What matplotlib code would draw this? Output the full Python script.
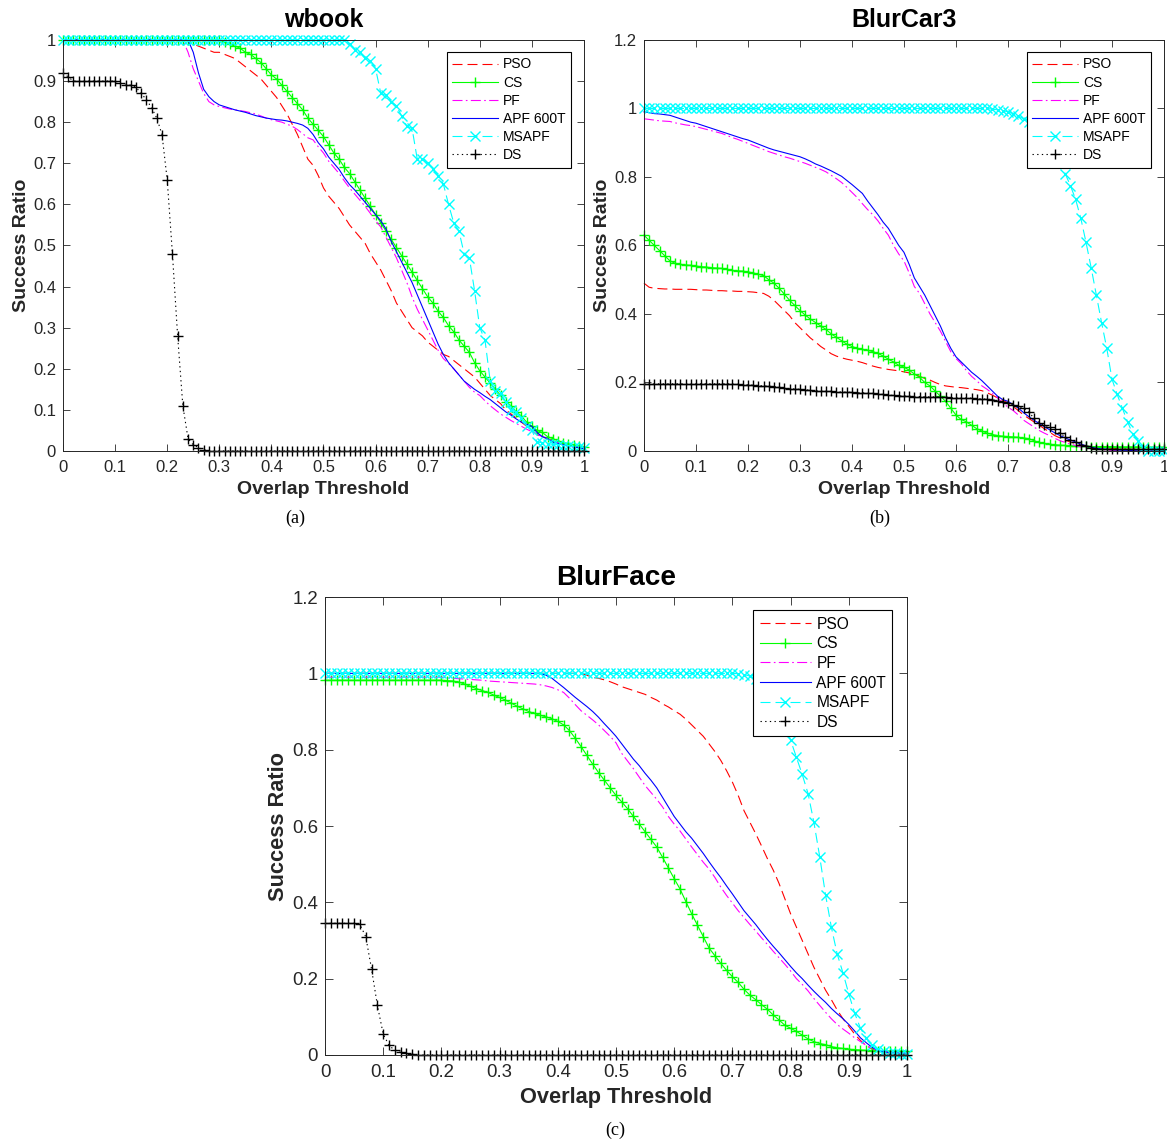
import numpy as np
import matplotlib
matplotlib.use('Agg')
import matplotlib.pyplot as plt
import matplotlib.ticker as tkr

plt.rcParams['font.family'] = ['Liberation Sans', 'DejaVu Sans']

# overlap thresholds (x axis)
thr = np.linspace(0, 1, 101)

# DATA  (rows of ten: 0.00-0.09, 0.10-0.19, ... , last value at 1.00)
##############################################################################

# (a) wbook
a_pso = [1, 1, 1, 1, 1, 1, 1, 1, 1, 1,
         1, 1, 1, 1, 1, 1, 1, 1, 1, 1,
         1, 1, 1, 1, 1, 0.99, 0.985, 0.98, 0.975, 0.97,
         0.97, 0.965, 0.96, 0.955, 0.945, 0.935, 0.925, 0.915, 0.905, 0.89,
         0.875, 0.86, 0.84, 0.82, 0.795, 0.77, 0.74, 0.71, 0.695, 0.67,
         0.64, 0.62, 0.605, 0.59, 0.57, 0.55, 0.535, 0.52, 0.505, 0.48,
         0.46, 0.44, 0.415, 0.39, 0.36, 0.34, 0.32, 0.30, 0.29, 0.28,
         0.265, 0.255, 0.245, 0.235, 0.23, 0.22, 0.21, 0.20, 0.19, 0.18,
         0.165, 0.15, 0.135, 0.125, 0.115, 0.10, 0.09, 0.08, 0.07, 0.06,
         0.05, 0.04, 0.035, 0.03, 0.025, 0.02, 0.015, 0.012, 0.01, 0.008,
         0.005]
a_cs = [1, 1, 1, 1, 1, 1, 1, 1, 1, 1,
        1, 1, 1, 1, 1, 1, 1, 1, 1, 1,
        1, 1, 1, 1, 1, 1, 1, 1, 1, 1,
        1, 0.995, 0.99, 0.985, 0.98, 0.97, 0.965, 0.955, 0.945, 0.93,
        0.915, 0.905, 0.89, 0.875, 0.86, 0.845, 0.83, 0.81, 0.795, 0.78,
        0.765, 0.745, 0.725, 0.71, 0.69, 0.675, 0.655, 0.635, 0.615, 0.595,
        0.575, 0.555, 0.535, 0.515, 0.495, 0.475, 0.455, 0.435, 0.415, 0.395,
        0.375, 0.36, 0.34, 0.325, 0.305, 0.29, 0.27, 0.255, 0.24, 0.215,
        0.195, 0.18, 0.165, 0.15, 0.135, 0.12, 0.11, 0.095, 0.085, 0.07,
        0.06, 0.05, 0.045, 0.035, 0.03, 0.025, 0.02, 0.018, 0.015, 0.012,
        0.01]
a_pf = [1, 1, 1, 1, 1, 1, 1, 1, 1, 1,
        1, 1, 1, 1, 1, 1, 1, 1, 1, 1,
        1, 1, 1, 1, 0.97, 0.93, 0.9, 0.87, 0.85, 0.842,
        0.838, 0.835, 0.832, 0.83, 0.828, 0.826, 0.823, 0.82, 0.815, 0.81,
        0.806, 0.803, 0.80, 0.795, 0.79, 0.782, 0.772, 0.762, 0.757, 0.74,
        0.725, 0.705, 0.69, 0.675, 0.657, 0.64, 0.625, 0.61, 0.595, 0.578,
        0.56, 0.545, 0.52, 0.495, 0.47, 0.44, 0.41, 0.375, 0.345, 0.32,
        0.295, 0.27, 0.245, 0.225, 0.213, 0.2, 0.185, 0.17, 0.155, 0.143,
        0.135, 0.122, 0.11, 0.1, 0.09, 0.082, 0.074, 0.067, 0.06, 0.053,
        0.047, 0.04, 0.035, 0.03, 0.024, 0.02, 0.015, 0.012, 0.01, 0.008,
        0.005]
a_apf = [1, 1, 1, 1, 1, 1, 1, 1, 1, 1,
         1, 1, 1, 1, 1, 1, 1, 1, 1, 1,
         1, 1, 1, 1, 1, 0.97, 0.92, 0.88, 0.862, 0.85,
         0.842, 0.838, 0.834, 0.83, 0.827, 0.824, 0.82, 0.816, 0.813, 0.81,
         0.808, 0.806, 0.805, 0.803, 0.80, 0.797, 0.793, 0.785, 0.77, 0.75,
         0.735, 0.715, 0.70, 0.685, 0.665, 0.648, 0.635, 0.62, 0.605, 0.59,
         0.575, 0.56, 0.54, 0.51, 0.485, 0.46, 0.435, 0.41, 0.38, 0.35,
         0.32, 0.29, 0.26, 0.235, 0.215, 0.2, 0.185, 0.17, 0.16, 0.15,
         0.142, 0.133, 0.125, 0.115, 0.105, 0.095, 0.087, 0.078, 0.07, 0.065,
         0.06, 0.045, 0.035, 0.03, 0.022, 0.018, 0.015, 0.012, 0.01, 0.008,
         0.005]
a_msapf = [1, 1, 1, 1, 1, 1, 1, 1, 1, 1,
           1, 1, 1, 1, 1, 1, 1, 1, 1, 1,
           1, 1, 1, 1, 1, 1, 1, 1, 1, 1,
           1, 1, 1, 1, 1, 1, 1, 1, 1, 1,
           1, 1, 1, 1, 1, 1, 1, 1, 1, 1,
           1, 1, 1, 1, 1, 0.99, 0.976, 0.97, 0.955, 0.95,
           0.93, 0.87, 0.865, 0.85, 0.84, 0.815, 0.79, 0.785, 0.71, 0.71,
           0.70, 0.685, 0.67, 0.65, 0.60, 0.555, 0.535, 0.48, 0.47, 0.39,
           0.30, 0.27, 0.17, 0.145, 0.14, 0.12, 0.10, 0.095, 0.08, 0.06,
           0.05, 0.022, 0.02, 0.018, 0.016, 0.015, 0.013, 0.012, 0.01, 0.01,
           0.008]
a_ds = [0.92, 0.91, 0.90, 0.90, 0.90, 0.90, 0.90, 0.90, 0.90, 0.90,
        0.90, 0.895, 0.89, 0.89, 0.885, 0.87, 0.855, 0.835, 0.81, 0.77,
        0.66, 0.48, 0.28, 0.11, 0.03, 0.015, 0.008, 0.003, 0, 0,
        0, 0, 0, 0, 0, 0, 0, 0, 0, 0,
        0, 0, 0, 0, 0, 0, 0, 0, 0, 0,
        0, 0, 0, 0, 0, 0, 0, 0, 0, 0,
        0, 0, 0, 0, 0, 0, 0, 0, 0, 0,
        0, 0, 0, 0, 0, 0, 0, 0, 0, 0,
        0, 0, 0, 0, 0, 0, 0, 0, 0, 0,
        0, 0, 0, 0, 0, 0, 0, 0, 0, 0,
        0]

# (b) BlurCar3
b_pso = [0.49, 0.478, 0.475, 0.474, 0.473, 0.473, 0.472, 0.472, 0.472, 0.472,
         0.471, 0.47, 0.47, 0.469, 0.468, 0.468, 0.467, 0.467, 0.466, 0.466,
         0.465, 0.464, 0.462, 0.46, 0.452, 0.44, 0.425, 0.41, 0.395, 0.375,
         0.36, 0.345, 0.33, 0.318, 0.305, 0.295, 0.284, 0.277, 0.272, 0.268,
         0.265, 0.262, 0.258, 0.253, 0.248, 0.244, 0.241, 0.238, 0.236, 0.234,
         0.231, 0.228, 0.224, 0.218, 0.212, 0.207, 0.20, 0.194, 0.19, 0.188,
         0.186, 0.185, 0.183, 0.181, 0.179, 0.176, 0.17, 0.163, 0.155, 0.148,
         0.14, 0.13, 0.118, 0.105, 0.095, 0.085, 0.075, 0.065, 0.055, 0.045,
         0.038, 0.032, 0.026, 0.022, 0.018, 0.015, 0.013, 0.012, 0.01, 0.009,
         0.008, 0.007, 0.006, 0.005, 0.005, 0.004, 0.004, 0.003, 0.003, 0.002,
         0.002]
b_cs = [0.63, 0.615, 0.60, 0.585, 0.57, 0.555, 0.548, 0.545, 0.543, 0.542,
        0.54, 0.538, 0.537, 0.535, 0.534, 0.533, 0.53, 0.527, 0.526, 0.525,
        0.523, 0.52, 0.516, 0.512, 0.50, 0.49, 0.475, 0.458, 0.44, 0.425,
        0.41, 0.397, 0.385, 0.375, 0.365, 0.355, 0.342, 0.332, 0.322, 0.312,
        0.305, 0.30, 0.297, 0.294, 0.29, 0.285, 0.277, 0.268, 0.26, 0.25,
        0.245, 0.236, 0.225, 0.215, 0.20, 0.19, 0.175, 0.16, 0.145, 0.125,
        0.105, 0.092, 0.085, 0.075, 0.065, 0.058, 0.052, 0.048, 0.045, 0.043,
        0.042, 0.041, 0.04, 0.038, 0.036, 0.03, 0.025, 0.022, 0.02, 0.018,
        0.017, 0.016, 0.015, 0.015, 0.015, 0.014, 0.013, 0.013, 0.013, 0.013,
        0.013, 0.012, 0.012, 0.012, 0.012, 0.012, 0.011, 0.011, 0.011, 0.011,
        0.011]
b_pf = [0.97, 0.968, 0.966, 0.964, 0.963, 0.962, 0.958, 0.955, 0.952, 0.95,
        0.947, 0.943, 0.939, 0.935, 0.931, 0.927, 0.921, 0.915, 0.91, 0.904,
        0.898, 0.892, 0.886, 0.88, 0.874, 0.869, 0.864, 0.859, 0.855, 0.85,
        0.845, 0.84, 0.834, 0.828, 0.822, 0.815, 0.805, 0.795, 0.784, 0.77,
        0.755, 0.74, 0.722, 0.705, 0.69, 0.672, 0.65, 0.63, 0.60, 0.575,
        0.555, 0.52, 0.48, 0.46, 0.43, 0.40, 0.375, 0.35, 0.32, 0.29,
        0.27, 0.255, 0.235, 0.218, 0.205, 0.19, 0.18, 0.168, 0.155, 0.14,
        0.128, 0.118, 0.105, 0.09, 0.08, 0.07, 0.06, 0.052, 0.045, 0.037,
        0.03, 0.025, 0.02, 0.016, 0.012, 0.009, 0.007, 0.005, 0.004, 0.003,
        0.002, 0.002, 0.001, 0, 0, 0, 0, 0, 0, 0,
        0]
b_apf = [0.99, 0.988, 0.985, 0.984, 0.982, 0.98, 0.975, 0.97, 0.965, 0.96,
         0.957, 0.952, 0.947, 0.942, 0.937, 0.932, 0.927, 0.922, 0.917, 0.912,
         0.908, 0.902, 0.896, 0.89, 0.884, 0.879, 0.875, 0.871, 0.867, 0.863,
         0.859, 0.853, 0.846, 0.838, 0.832, 0.825, 0.818, 0.81, 0.802, 0.79,
         0.778, 0.765, 0.752, 0.73, 0.71, 0.69, 0.668, 0.65, 0.625, 0.60,
         0.58, 0.545, 0.505, 0.48, 0.455, 0.425, 0.395, 0.365, 0.33, 0.30,
         0.275, 0.26, 0.245, 0.23, 0.218, 0.205, 0.19, 0.175, 0.16, 0.15,
         0.145, 0.135, 0.125, 0.112, 0.10, 0.09, 0.08, 0.071, 0.062, 0.053,
         0.045, 0.038, 0.032, 0.026, 0.02, 0.015, 0.011, 0.008, 0.006, 0.005,
         0.004, 0.003, 0.002, 0.002, 0.001, 0, 0, 0, 0, 0,
         0]
b_msapf = [1, 1, 1, 1, 1, 1, 1, 1, 1, 1,
           1, 1, 1, 1, 1, 1, 1, 1, 1, 1,
           1, 1, 1, 1, 1, 1, 1, 1, 1, 1,
           1, 1, 1, 1, 1, 1, 1, 1, 1, 1,
           1, 1, 1, 1, 1, 1, 1, 1, 1, 1,
           1, 1, 1, 1, 1, 1, 1, 1, 1, 1,
           1, 1, 1, 1, 1, 1, 1, 0.998, 0.996, 0.994,
           0.99, 0.985, 0.978, 0.97, 0.96, 0.945, 0.93, 0.91, 0.89, 0.865,
           0.84, 0.81, 0.775, 0.735, 0.68, 0.61, 0.535, 0.455, 0.375, 0.30,
           0.21, 0.165, 0.125, 0.085, 0.05, 0.03, 0.01, 0, 0, 0,
           0]
b_ds = [0.197, 0.196, 0.196, 0.196, 0.196, 0.196, 0.196, 0.196, 0.196, 0.196,
        0.196, 0.196, 0.196, 0.196, 0.196, 0.196, 0.196, 0.195, 0.195, 0.194,
        0.193, 0.192, 0.191, 0.19, 0.189, 0.188, 0.186, 0.184, 0.182, 0.181,
        0.18, 0.179, 0.177, 0.176, 0.175, 0.175, 0.174, 0.173, 0.172, 0.172,
        0.171, 0.17, 0.17, 0.169, 0.168, 0.166, 0.165, 0.163, 0.162, 0.161,
        0.16, 0.16, 0.159, 0.159, 0.158, 0.158, 0.158, 0.157, 0.157, 0.156,
        0.156, 0.155, 0.155, 0.154, 0.153, 0.152, 0.151, 0.15, 0.147, 0.144,
        0.14, 0.135, 0.13, 0.125, 0.115, 0.095, 0.083, 0.075, 0.07, 0.063,
        0.052, 0.042, 0.032, 0.025, 0.018, 0.014, 0.01, 0.007, 0.005, 0.005,
        0.005, 0.005, 0.005, 0.005, 0.005, 0.005, 0.005, 0.005, 0.005, 0.005,
        0.005]

# (c) BlurFace
c_pso = [1, 1, 1, 1, 1, 1, 1, 1, 1, 1,
         1, 1, 1, 1, 1, 1, 1, 1, 1, 1,
         1, 1, 1, 1, 1, 1, 1, 1, 1, 1,
         1, 1, 1, 1, 1, 1, 1, 1, 1, 1,
         1, 1, 1, 1, 1, 0.995, 0.99, 0.987, 0.983, 0.978,
         0.972, 0.965, 0.96, 0.955, 0.95, 0.945, 0.937, 0.93, 0.92, 0.912,
         0.902, 0.893, 0.88, 0.865, 0.85, 0.835, 0.815, 0.795, 0.772, 0.745,
         0.715, 0.68, 0.64, 0.61, 0.58, 0.548, 0.515, 0.485, 0.45, 0.41,
         0.37, 0.335, 0.30, 0.265, 0.23, 0.20, 0.17, 0.145, 0.118, 0.095,
         0.075, 0.055, 0.038, 0.025, 0.015, 0.01, 0.007, 0.005, 0.004, 0.003,
         0.003]
c_cs = [0.982, 0.982, 0.982, 0.982, 0.982, 0.982, 0.982, 0.982, 0.982, 0.982,
        0.982, 0.982, 0.982, 0.982, 0.982, 0.982, 0.982, 0.982, 0.982, 0.982,
        0.982, 0.981, 0.98, 0.977, 0.972, 0.966, 0.96, 0.955, 0.95, 0.943,
        0.937, 0.93, 0.922, 0.914, 0.907, 0.90, 0.895, 0.89, 0.886, 0.881,
        0.874, 0.865, 0.85, 0.83, 0.808, 0.785, 0.762, 0.74, 0.72, 0.70,
        0.68, 0.663, 0.645, 0.625, 0.605, 0.585, 0.565, 0.545, 0.518, 0.49,
        0.462, 0.435, 0.402, 0.37, 0.34, 0.31, 0.28, 0.26, 0.24, 0.222,
        0.205, 0.19, 0.172, 0.157, 0.145, 0.132, 0.12, 0.105, 0.092, 0.078,
        0.07, 0.062, 0.052, 0.042, 0.035, 0.03, 0.027, 0.022, 0.019, 0.017,
        0.015, 0.014, 0.013, 0.012, 0.011, 0.011, 0.01, 0.01, 0.01, 0.01,
        0.01]
c_pf = [0.99, 0.99, 0.99, 0.99, 0.99, 0.99, 0.99, 0.99, 0.99, 0.99,
        0.99, 0.99, 0.99, 0.99, 0.99, 0.99, 0.99, 0.99, 0.99, 0.99,
        0.99, 0.988, 0.987, 0.986, 0.985, 0.984, 0.983, 0.982, 0.98, 0.979,
        0.978, 0.977, 0.976, 0.975, 0.974, 0.973, 0.972, 0.97, 0.967, 0.963,
        0.957, 0.95, 0.935, 0.918, 0.902, 0.89, 0.878, 0.865, 0.85, 0.835,
        0.818, 0.79, 0.77, 0.75, 0.728, 0.706, 0.688, 0.67, 0.65, 0.625,
        0.605, 0.587, 0.566, 0.545, 0.525, 0.505, 0.487, 0.465, 0.44, 0.418,
        0.398, 0.378, 0.36, 0.342, 0.325, 0.307, 0.29, 0.272, 0.255, 0.238,
        0.22, 0.20, 0.185, 0.168, 0.148, 0.13, 0.112, 0.095, 0.08, 0.068,
        0.057, 0.045, 0.035, 0.025, 0.018, 0.012, 0.01, 0.008, 0.006, 0.005,
        0.005]
c_apf = [1, 1, 1, 1, 1, 1, 1, 1, 1, 1,
         1, 1, 1, 1, 1, 1, 1, 1, 1, 1,
         1, 1, 1, 1, 1, 1, 1, 1, 1, 1,
         1, 1, 1, 1, 1, 1, 1, 1, 0.995, 0.987,
         0.975, 0.963, 0.95, 0.937, 0.925, 0.913, 0.90, 0.885, 0.868, 0.852,
         0.835, 0.815, 0.795, 0.775, 0.758, 0.738, 0.72, 0.70, 0.675, 0.65,
         0.625, 0.605, 0.585, 0.568, 0.548, 0.528, 0.506, 0.485, 0.465, 0.443,
         0.422, 0.40, 0.378, 0.36, 0.342, 0.322, 0.303, 0.285, 0.268, 0.25,
         0.232, 0.215, 0.20, 0.183, 0.167, 0.152, 0.138, 0.122, 0.108, 0.095,
         0.08, 0.063, 0.045, 0.032, 0.02, 0.012, 0.008, 0.006, 0.005, 0.005,
         0.005]
c_msapf = [1, 1, 1, 1, 1, 1, 1, 1, 1, 1,
           1, 1, 1, 1, 1, 1, 1, 1, 1, 1,
           1, 1, 1, 1, 1, 1, 1, 1, 1, 1,
           1, 1, 1, 1, 1, 1, 1, 1, 1, 1,
           1, 1, 1, 1, 1, 1, 1, 1, 1, 1,
           1, 1, 1, 1, 1, 1, 1, 1, 1, 1,
           1, 1, 1, 1, 1, 1, 1, 1, 1, 1,
           1, 0.999, 0.997, 0.993, 0.985, 0.975, 0.96, 0.94, 0.91, 0.87,
           0.825, 0.78, 0.735, 0.685, 0.61, 0.52, 0.42, 0.335, 0.265, 0.215,
           0.16, 0.11, 0.07, 0.045, 0.025, 0.015, 0.01, 0.006, 0.004, 0.003,
           0.002]
c_ds = [0.345, 0.345, 0.345, 0.345, 0.345, 0.345, 0.342, 0.31, 0.225, 0.13,
        0.055, 0.025, 0.012, 0.007, 0.004, 0.002, 0, 0, 0, 0,
        0, 0, 0, 0, 0, 0, 0, 0, 0, 0,
        0, 0, 0, 0, 0, 0, 0, 0, 0, 0,
        0, 0, 0, 0, 0, 0, 0, 0, 0, 0,
        0, 0, 0, 0, 0, 0, 0, 0, 0, 0,
        0, 0, 0, 0, 0, 0, 0, 0, 0, 0,
        0, 0, 0, 0, 0, 0, 0, 0, 0, 0,
        0, 0, 0, 0, 0, 0, 0, 0, 0, 0,
        0, 0, 0, 0, 0, 0, 0, 0, 0, 0,
        0]

labels = ['PSO', 'CS', 'PF', 'APF 600T', 'MSAPF', 'DS']

##############################################################################

# MATLAB-ish line specs, same order as labels
colors = ['#ff0000', '#00ff00', '#ff00ff', '#0000ff', '#00ffff', '#000000']
dash = [(9, 4.5), None, (9, 3, 1.5, 3), None, (9, 4.5), (1.2, 3)]
marks = [None, '+', None, None, 'x', '+']
msize = [0, 7, 0, 0, 6.5, 7]
GRAY = (0.15, 0.15, 0.15)


def draw_panel(ax, series, title, ymax, scale=1.0):
    for y, lab, c, d, m, s in zip(series, labels, colors, dash, marks, msize):
        line, = ax.plot(thr, y, color=c, lw=0.8, marker=m, ms=s * scale,
                        mew=1.0, label=lab, clip_on=False)
        if d is not None:
            line.set_dashes(d)
    ax.set_xlim(0, 1)
    ax.set_ylim(0, ymax)
    ax.set_xticks(np.arange(0, 1.01, 0.1))
    step = 0.1 if ymax == 1 else 0.2
    ax.set_yticks(np.arange(0, ymax + 0.001, step))
    fmt = tkr.FuncFormatter(lambda v, _: '%g' % round(v, 2))
    ax.xaxis.set_major_formatter(fmt)
    ax.yaxis.set_major_formatter(fmt)
    ax.tick_params(direction='in', top=True, right=True, length=5 * scale,
                   width=0.6, color=GRAY, labelcolor=GRAY,
                   labelsize=12 * scale, pad=5)
    ax.tick_params(axis='x', pad=6.5)
    for sp in ax.spines.values():
        sp.set_color(GRAY)
        sp.set_linewidth(0.7)
    ax.set_title(title, fontsize=18 * scale, fontweight='bold', pad=9)
    ax.set_xlabel('Overlap Threshold', fontsize=14 * scale, fontweight='bold',
                  color=GRAY, labelpad=4 * scale)
    ax.set_ylabel('Success Ratio', fontsize=14 * scale, fontweight='bold',
                  color=GRAY, labelpad=2)
    leg = ax.legend(loc='upper right', bbox_to_anchor=(0.975, 0.971),
                    borderaxespad=0, fontsize=10 * scale, handlelength=3.3,
                    handletextpad=0.35, labelspacing=0.3, borderpad=0.4,
                    fancybox=False, framealpha=1, numpoints=1)
    leg.get_frame().set_edgecolor('black')
    leg.get_frame().set_linewidth(0.8)


fig = plt.figure(figsize=(11.67, 11.42), dpi=100)
ax_a = fig.add_axes([0.054, 0.6051, 0.4464, 0.3599])
ax_b = fig.add_axes([0.5518, 0.6051, 0.4456, 0.3599])
ax_c = fig.add_axes([0.2785, 0.0762, 0.4987, 0.401])

draw_panel(ax_a, [a_pso, a_cs, a_pf, a_apf, a_msapf, a_ds], 'wbook', 1)
draw_panel(ax_b, [b_pso, b_cs, b_pf, b_apf, b_msapf, b_ds], 'BlurCar3', 1.2)
draw_panel(ax_c, [c_pso, c_cs, c_pf, c_apf, c_msapf, c_ds], 'BlurFace', 1.2,
           scale=1.12)

cap = dict(family='Liberation Serif', fontsize=13, ha='center', va='center')
fig.text(0.2528, 0.5464, '(a)', **cap)
fig.text(0.754, 0.5464, '(b)', **cap)
fig.text(0.527, 0.0105, '(c)', **cap)

fig.savefig('out.png', dpi=100)
